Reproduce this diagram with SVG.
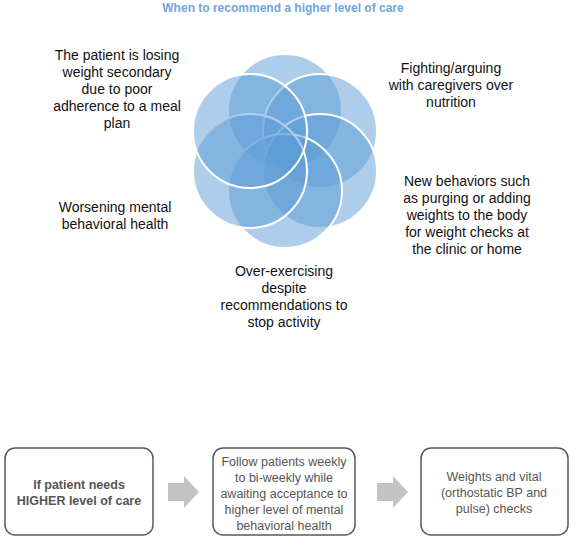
<svg xmlns="http://www.w3.org/2000/svg" width="575" height="542" viewBox="0 0 575 542">
<style>
.lbl{font-family:"Liberation Sans",Arial,sans-serif;font-size:14px;fill:#111;text-anchor:middle}
.box{fill:#fff;stroke:#5a5a5a;stroke-width:1.5}
.bt{font-family:"Liberation Sans",Arial,sans-serif;font-size:12.5px;fill:#555;text-anchor:middle}
.petal{fill:#5b9bd5;fill-opacity:0.5;stroke:#fff;stroke-width:2}
.arr{fill:#c3c3c3}
</style>
<rect width="575" height="542" fill="#fff"/>
<text x="283" y="12" font-family="'Liberation Sans',Arial,sans-serif" font-size="12" font-weight="bold" fill="#6fa7dc" text-anchor="middle">When to recommend a higher level of care</text>
<g id="flower">
<circle class="petal" cx="285" cy="111" r="57"/>
<circle class="petal" cx="320" cy="131" r="57"/>
<circle class="petal" cx="320" cy="171" r="57"/>
<circle class="petal" cx="285" cy="191" r="57"/>
<circle class="petal" cx="250" cy="171" r="57"/>
<circle class="petal" cx="250" cy="131" r="57"/>
</g>
<g id="label1" class="lbl"><text x="117" y="60">The patient is losing</text><text x="117" y="77">weight secondary</text><text x="117" y="94">due to poor</text><text x="117" y="111">adherence to a meal</text><text x="117" y="128">plan</text></g>
<g id="label2" class="lbl"><text x="451" y="73">Fighting/arguing</text><text x="451" y="90">with caregivers over</text><text x="451" y="107">nutrition</text></g>
<g id="label3" class="lbl"><text x="467" y="186">New behaviors such</text><text x="467" y="203">as purging or adding</text><text x="467" y="220">weights to the body</text><text x="467" y="237">for weight checks at</text><text x="467" y="254">the clinic or home</text></g>
<g id="label4" class="lbl"><text x="115" y="212">Worsening mental</text><text x="115" y="229">behavioral health</text></g>
<g id="label5" class="lbl"><text x="284" y="276">Over-exercising</text><text x="284" y="293">despite</text><text x="284" y="310">recommendations to</text><text x="284" y="327">stop activity</text></g>
<g id="box1"><rect class="box" x="5" y="448" width="148" height="87" rx="10"/><text class="bt" x="79" y="489" font-weight="bold">If patient needs</text><text class="bt" x="79" y="505" font-weight="bold">HIGHER level of care</text></g>
<g id="box2"><rect class="box" x="213" y="448" width="142" height="87" rx="10"/><text class="bt" x="284" y="466">Follow patients weekly</text><text class="bt" x="284" y="482">to bi-weekly while</text><text class="bt" x="284" y="498">awaiting acceptance to</text><text class="bt" x="284" y="514">higher level of mental</text><text class="bt" x="284" y="530">behavioral health</text></g>
<g id="box3"><rect class="box" x="421" y="448" width="147" height="87" rx="10"/><text class="bt" x="494" y="481">Weights and vital</text><text class="bt" x="494" y="497">(orthostatic BP and</text><text class="bt" x="494" y="513">pulse) checks</text></g>
<g id="connectors">
<polygon class="arr" points="168,483 184,483 184,476 199,492 184,508 184,501 168,501"/>
<polygon class="arr" points="377,483 393,483 393,476 408,492 393,508 393,501 377,501"/>
</g>
</svg>
